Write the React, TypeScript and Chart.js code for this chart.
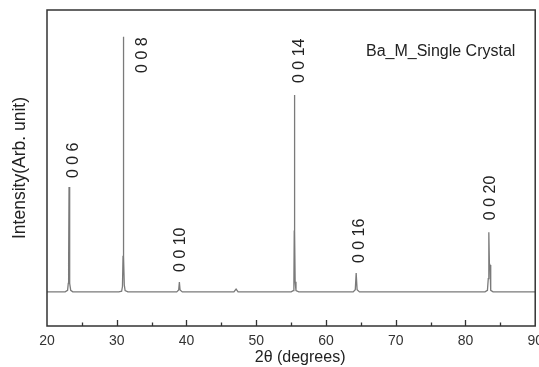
import React, { useEffect, useRef } from "react";
import { Chart, registerables } from "chart.js";

Chart.register(...registerables);

// 2θ positions (degrees) of the trace vertices
const twoTheta = [
  20, 22.6, 22.95, 23.05, 23.1, 23.16, 23.22, 23.28, 23.4, 23.7,
  30.3, 30.7, 30.82, 30.9, 30.95, 31.0, 31.08, 31.2, 31.6,
  38.6, 38.88, 38.98, 39.08, 39.4,
  46.8, 47.11, 47.4,
  55.0, 55.3, 55.4, 55.45, 55.48, 55.52, 55.58, 55.7, 56.1,
  63.9, 64.2, 64.33, 64.46, 64.8,
  82.8, 83.15, 83.27, 83.35, 83.43, 83.52, 83.58, 83.66, 83.95,
  90,
];
// intensity (arb. unit)
const intensity = [
  10.8, 10.8, 11.3, 13.5, 20, 44, 20, 13.5, 11.3, 10.8,
  10.8, 11.0, 12.5, 22, 91.5, 22, 13, 11.2, 10.8,
  10.8, 11.4, 13.9, 11.4, 10.8,
  10.8, 11.7, 10.8,
  10.8, 11.2, 14, 30, 73.1, 30, 14, 11.2, 10.8,
  10.8, 11.5, 16.8, 11.5, 10.8,
  10.8, 11.3, 15, 29.7, 19.8, 19.3, 15, 11.3, 10.8,
  10.8,
];

// peak labels (text, anchor 2θ, label base intensity)
const peakLabels = ["0 0 6", "0 0 8", "0 0 10", "0 0 14", "0 0 16", "0 0 20"];
const peakLabelX = [23.84, 33.7, 39.22, 56.15, 64.76, 83.62];
const peakLabelY = [46.8, 80.1, 17.1, 76.9, 19.9, 33.5];

const xTickStep = 10;
const xMin = 20;
const xMax = 90;
const sampleName = "Ba_M_Single Crystal";
const xTitle = "2θ (degrees)";
const yTitle = "Intensity(Arb. unit)";

const FONT = '"Liberation Sans", Arial, Helvetica, sans-serif';

const decorPlugin = {
  id: "decor",
  afterDraw(chart: any) {
    const { ctx, chartArea } = chart;
    const xs = chart.scales.x;
    const ys = chart.scales.y;
    ctx.save();
    // frame
    ctx.strokeStyle = "#333";
    ctx.lineWidth = 1.5;
    ctx.strokeRect(chartArea.left, chartArea.top, chartArea.right - chartArea.left, chartArea.bottom - chartArea.top);
    // inward ticks
    ctx.lineWidth = 1.3;
    for (let v = xMin + 5; v < xMax; v += 5) {
      const px = Math.round(xs.getPixelForValue(v)) + 0.5;
      const len = v % 10 === 0 ? 6 : 3.5;
      ctx.beginPath();
      ctx.moveTo(px, chartArea.bottom);
      ctx.lineTo(px, chartArea.bottom - len);
      ctx.stroke();
    }
    // peak labels
    ctx.fillStyle = "#222";
    ctx.font = `16px ${FONT}`;
    ctx.textAlign = "left";
    ctx.textBaseline = "middle";
    for (let i = 0; i < peakLabels.length; i++) {
      const px = xs.getPixelForValue(peakLabelX[i]);
      const py = ys.getPixelForValue(peakLabelY[i]);
      ctx.save();
      ctx.translate(px, py);
      ctx.rotate(-Math.PI / 2);
      ctx.fillText(peakLabels[i], 0, 0);
      ctx.restore();
    }
    // sample name
    ctx.textBaseline = "alphabetic";
    ctx.font = `16px ${FONT}`;
    ctx.fillText(sampleName, chartArea.left + 319, chartArea.top + 46);
    // x title
    ctx.textAlign = "center";
    ctx.textBaseline = "middle";
    ctx.font = `16px ${FONT}`;
    ctx.fillText(xTitle, (chartArea.left + chartArea.right) / 2 + 9, chartArea.bottom + 32);
    ctx.restore();
  },
};

export default function App() {
  const ref = useRef<HTMLCanvasElement>(null);
  useEffect(() => {
    if (!ref.current) return;
    const points = twoTheta.map((x, i) => ({ x, y: intensity[i] }));
    const chart = new Chart(ref.current, {
      type: "line",
      data: {
        datasets: [
          {
            data: points,
            borderColor: "#7a7a7a",
            borderWidth: 1.3,
            pointRadius: 0,
            tension: 0,
            fill: false,
          },
        ],
      },
      options: {
        animation: false,
        responsive: false,
        devicePixelRatio: 1,
        layout: { padding: { top: 10, left: 0, right: 0, bottom: 0 } },
        plugins: { legend: { display: false }, tooltip: { enabled: false } },
        scales: {
          x: {
            type: "linear",
            min: xMin,
            max: xMax,
            grid: { display: false, drawTicks: false },
            border: { display: false },
            ticks: {
              stepSize: xTickStep,
              padding: 7,
              color: "#333",
              font: { family: FONT, size: 14 },
              maxRotation: 0,
            },
            afterFit(scale: any) {
              scale.height = 41;
            },
          },
          y: {
            min: 0,
            max: 100,
            grid: { display: false, drawTicks: false },
            border: { display: false },
            ticks: { display: false },
            title: {
              display: true,
              text: yTitle,
              color: "#222",
              font: { family: FONT, size: 17.5 },
              padding: { top: 10, bottom: 0 },
            },
            afterFit(scale: any) {
              scale.width = 47;
            },
          },
        },
      },
      plugins: [decorPlugin],
    });
    return () => chart.destroy();
  }, []);
  return (
    <div style={{ position: "fixed", left: 0, top: 0, width: 539, height: 367, overflow: "hidden", background: "#fff" }}>
      <canvas ref={ref} width={550} height={367} style={{ display: "block" }} />
    </div>
  );
}
